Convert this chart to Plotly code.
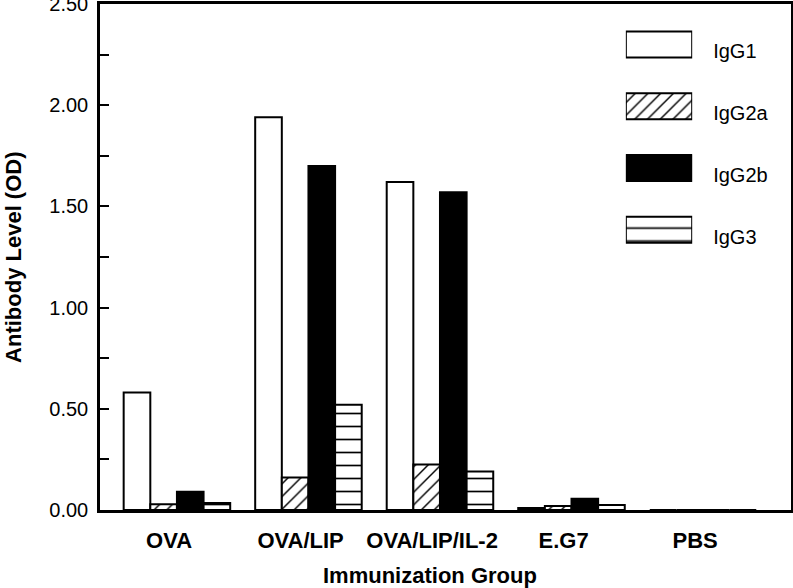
import numpy as np
import plotly.graph_objects as go

# ---- data ----
groups = ["OVA", "OVA/LIP", "OVA/LIP/IL-2", "E.G7", "PBS"]
series = ["IgG1", "IgG2a", "IgG2b", "IgG3"]
igg1 = [0.58, 1.94, 1.62, 0.010, 0.0]
igg2a = [0.028, 0.16, 0.225, 0.020, 0.0]
igg2b = [0.09, 1.70, 1.57, 0.055, 0.0]
igg3 = [0.035, 0.52, 0.19, 0.025, 0.0]
y_ticks = [0.0, 0.5, 1.0, 1.5, 2.0, 2.5]

values = [igg1, igg2a, igg2b, igg3]
fills = ["white", "white", "black", "white"]
shapes = ["", "/", "", "-"]
psizes = [8, 9, 8, 13]
psolid = [0.2, 0.16, 0.2, 0.13]

FONT = "Liberation Sans, Arial, Helvetica, sans-serif"
xpos = np.arange(len(groups))

fig = go.Figure()
for name, vals, fc, sh, ps, so in zip(series, values, fills, shapes, psizes, psolid):
    pat = dict(shape=sh, fgcolor="black", bgcolor=fc, size=ps, solidity=so, fillmode="replace")
    fig.add_trace(go.Bar(
        x=xpos, y=vals, name=name, showlegend=False,
        marker=dict(color=fc, line=dict(color="black", width=2), pattern=pat),
        hoverinfo="skip",
    ))
    # legend swatch for this series, drawn in a small bar subplot
    fig.add_trace(go.Bar(
        y=[name], x=[1], base=0, orientation="h",
        xaxis="x2", yaxis="y2", width=0.42, offset=-0.21,
        showlegend=False, hoverinfo="skip",
        marker=dict(color=fc, line=dict(color="black", width=2), pattern=pat),
    ))

fig.update_layout(
    width=793, height=588,
    margin=dict(l=100, r=2, t=4, b=78, autoexpand=False),
    paper_bgcolor="white", plot_bgcolor="white",
    barmode="group", bargap=0.19, bargroupgap=0,
    font=dict(family=FONT, color="black"),
    xaxis=dict(
        range=[-0.585, 4.669], tickvals=xpos - 0.06, ticktext=groups,
        showline=True, linecolor="black", linewidth=2.5, mirror=True,
        ticks="", showgrid=False, zeroline=False, automargin=False,
        tickfont=dict(size=22, family=FONT, weight="bold"),
        ticklabelstandoff=9,
    ),
    yaxis=dict(
        range=[0, 2.5], tickvals=y_ticks, tickformat=".2f",
        showline=True, linecolor="black", linewidth=2.5, mirror=True,
        ticks="inside", ticklen=9, tickwidth=2, tickcolor="black",
        minor=dict(dtick=0.25, ticks="inside", ticklen=9, tickwidth=2, tickcolor="black"),
        showgrid=False, zeroline=False, automargin=False,
        tickfont=dict(size=20, family=FONT),
        ticklabelstandoff=5, ticklabeloverflow="allow",
    ),
    xaxis2=dict(domain=[0.761, 0.857], anchor="y2", range=[0, 1],
                visible=False, fixedrange=True, automargin=False),
    yaxis2=dict(domain=[0.493, 0.981], anchor="x2", type="category",
                categoryorder="array", categoryarray=series[::-1],
                side="right", showline=False, showgrid=False, zeroline=False,
                ticks="", ticklabelstandoff=20, ticklabelshift=7,
                ticklabeloverflow="allow", automargin=False,
                tickfont=dict(size=20, family=FONT)),
    annotations=[
        dict(text="<b>Immunization Group</b>", xref="paper", yref="paper",
             x=0.4776, y=-0.130, xanchor="center", yanchor="middle",
             showarrow=False, font=dict(size=22, family=FONT)),
        dict(text="<b>Antibody Level (OD)</b>", xref="paper", yref="paper",
             x=-0.126, y=0.5, xanchor="center", yanchor="middle", textangle=-90,
             showarrow=False, font=dict(size=22, family=FONT)),
    ],
)

fig.write_html("out.html", config={"displayModeBar": False},
               post_script="document.body.style.margin='0';")
